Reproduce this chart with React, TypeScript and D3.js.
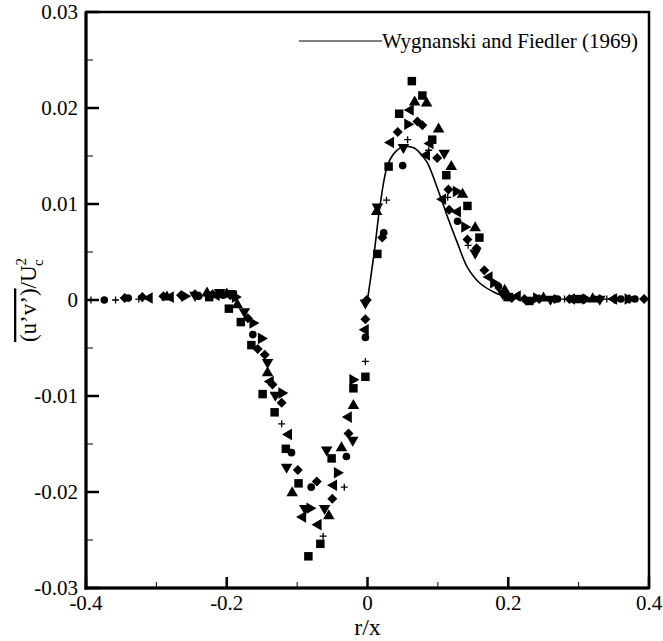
import React from 'react';
import * as d3 from 'd3';

type Pt = [number, number];

const xTicks = [-0.4, -0.2, 0, 0.2, 0.4];
const xMinor = [-0.3, -0.1, 0.1, 0.3];
const yTicks = [-0.03, -0.02, -0.01, 0, 0.01, 0.02, 0.03];
const yMinor = [-0.025, -0.015, -0.005, 0.005, 0.015, 0.025];

// Wygnanski and Fiedler (1969)
const curveData: Pt[] = [
  [0, 0], [0.01, 0.0052], [0.017, 0.0094], [0.028, 0.0139], [0.038, 0.0153], [0.048, 0.0159],
  [0.057, 0.016], [0.067, 0.0158], [0.077, 0.0151], [0.085, 0.0143], [0.102, 0.0111],
  [0.114, 0.0086], [0.128, 0.0059], [0.142, 0.0034], [0.159, 0.0018], [0.18, 0.0008], [0.19, 0.0005],
];

const plusData: Pt[] = [
  [-0.393, 0], [-0.358, 0], [-0.325, 0.0001], [-0.122, -0.0129], [-0.063, -0.0246], [-0.033, -0.0195],
  [-0.003, -0.0064], [0.027, 0.0104], [0.057, 0.0167], [0.087, 0.0156], [0.114, 0.0107], [0.143, 0.0057],
  [0.206, 0.0004], [0.28, 0.0001], [0.34, 0.0001],
];

const circleData: Pt[] = [
  [-0.374, 0], [-0.34, 0.0002], [-0.24, 0.0004], [-0.205, 0.0005], [-0.163, -0.0036], [-0.108, -0.0159],
  [-0.08, -0.0195], [-0.03, -0.0163], [-0.003, -0.0039], [0.023, 0.007], [0.05, 0.014], [0.128, 0.0082],
  [0.186, 0.0014], [0.27, 0.0001], [0.36, 0.0001], [0.38, 0.0001],
];

const squareData: Pt[] = [
  [-0.225, 0.0003], [-0.197, -0.0009], [-0.18, -0.0023], [-0.165, -0.0047], [-0.149, -0.0098], [-0.132, -0.0117],
  [-0.116, -0.0155], [-0.098, -0.0191], [-0.084, -0.0267], [-0.067, -0.0254], [-0.051, -0.0165], [-0.02, -0.0092],
  [-0.003, -0.008], [0.014, 0.0048], [0.03, 0.0139], [0.045, 0.0194], [0.063, 0.0228], [0.078, 0.0213],
  [0.092, 0.0167], [0.112, 0.013], [0.142, 0.0098], [0.159, 0.0065], [0.199, 0.0003], [0.23, -0.0001], [0.3, 0.0001],
];

const triUpData: Pt[] = [
  [-0.285, 0.0003], [-0.228, 0.0007], [-0.2, 0.0006], [-0.185, -0.0005], [-0.142, -0.0076], [-0.107, -0.0201],
  [-0.055, -0.0225], [-0.037, -0.0154], [-0.02, -0.011], [0.013, 0.0092], [0.067, 0.0206], [0.084, 0.0205],
  [0.101, 0.0178], [0.119, 0.0139], [0.135, 0.011], [0.153, 0.0075], [0.195, 0.001], [0.25, 0.0002], [0.32, 0.0001],
];

const triDownData: Pt[] = [
  [-0.245, 0.0005], [-0.21, 0.0008], [-0.195, 0.0007], [-0.175, -0.0012], [-0.142, -0.0065], [-0.131, -0.0099],
  [-0.115, -0.0174], [-0.089, -0.0217], [-0.061, -0.0217], [-0.058, -0.0156], [-0.021, -0.0146], [-0.003, -0.0003],
  [0.014, 0.0097], [0.051, 0.0159], [0.109, 0.0153], [0.153, 0.0049], [0.192, 0.0007], [0.26, 0.0001], [0.33, 0.0001],
];

const triLeftData: Pt[] = [
  [-0.31, 0.0002], [-0.28, 0.0003], [-0.215, 0.0005], [-0.19, 0.0004], [-0.138, -0.0085], [-0.112, -0.014],
  [-0.092, -0.0226], [-0.07, -0.0234], [-0.048, -0.0193], [-0.027, -0.0122], [-0.003, -0.0031], [0.033, 0.0164],
  [0.061, 0.0198], [0.084, 0.0151], [0.089, 0.0163], [0.107, 0.0105], [0.128, 0.0092], [0.173, 0.0024],
  [0.213, 0.0004], [0.29, 0.0001], [0.35, 0.0001],
];

const triRightData: Pt[] = [
  [-0.26, 0.0004], [-0.188, 0.0003], [-0.163, -0.0024], [-0.151, -0.004], [-0.122, -0.0097], [-0.082, -0.0217],
  [-0.043, -0.018], [-0.021, -0.0083], [0.057, 0.0183], [0.126, 0.0113], [0.138, 0.0076], [0.179, 0.0018],
  [0.24, 0.0002], [0.31, 0.0001], [0.37, 0.0001],
];

const diamondData: Pt[] = [
  [-0.345, 0.0002], [-0.32, 0.0003], [-0.29, 0.0004], [-0.265, 0.0005], [-0.245, 0.0006], [-0.22, 0.0006],
  [-0.195, 0.0005], [-0.17, -0.0019], [-0.156, -0.0051], [-0.146, -0.0057], [-0.135, -0.0088], [-0.122, -0.0107],
  [-0.099, -0.0177], [-0.072, -0.0189], [-0.05, -0.0207], [-0.027, -0.0139], [-0.003, -0.002], [-0.001, 0],
  [0.021, 0.0065], [0.043, 0.0175], [0.071, 0.0186], [0.078, 0.0182], [0.099, 0.0148], [0.115, 0.0115],
  [0.116, 0.0094], [0.142, 0.0063], [0.155, 0.0054], [0.166, 0.0031], [0.205, 0.0002], [0.223, 0.0001],
  [0.244, 0.0001], [0.266, 0.0001], [0.287, 0.0001], [0.308, 0.0001], [0.33, 0.0001], [0.351, 0.0001],
  [0.372, 0.0001], [0.393, 0.0001],
];

const W = 663;
const H = 641;
const left = 86, right = 649, top = 12, bottom = 588;
const font = "'Liberation Serif', 'DejaVu Serif', serif";

const x = d3.scaleLinear().domain([-0.4, 0.4]).range([left, right]);
const y = d3.scaleLinear().domain([-0.03, 0.03]).range([bottom, top]);

const sym = (type: d3.SymbolType, size: number) => d3.symbol().type(type).size(size)() as string;

const markerSets: { data: Pt[]; d: string; rot: number }[] = [
  { data: squareData, d: sym(d3.symbolSquare, 72), rot: 0 },
  { data: circleData, d: sym(d3.symbolCircle, 46), rot: 0 },
  { data: triUpData, d: sym(d3.symbolTriangle, 58), rot: 0 },
  { data: triDownData, d: sym(d3.symbolTriangle, 58), rot: 180 },
  { data: triLeftData, d: sym(d3.symbolTriangle, 58), rot: -90 },
  { data: triRightData, d: sym(d3.symbolTriangle, 58), rot: 90 },
  { data: diamondData, d: sym(d3.symbolDiamond2, 64), rot: 0 },
];

const fmt = (v: number) => (Math.abs(v) < 1e-9 ? '0' : d3.format('.2~f')(v).replace('−', '-'));
const fmtX = (v: number) => (Math.abs(v) < 1e-9 ? '0' : d3.format('.1f')(v).replace('−', '-'));

export default function App() {
  const line = d3.line<Pt>().x(d => x(d[0])).y(d => y(d[1])).curve(d3.curveCatmullRom);
  return (
    <svg width={W} height={H} style={{ position: 'absolute', left: 0, top: 0, background: '#fff', fontFamily: font }}>
      <rect x={0} y={0} width={W} height={H} fill="#fff" />
      {/* frame */}
      <rect x={left} y={top} width={right - left} height={bottom - top} fill="none" stroke="#000" strokeWidth={2.5} />
      <line x1={left} x2={left} y1={top} y2={bottom + 1.5} stroke="#000" strokeWidth={3} />
      <line x1={left - 1.5} x2={right} y1={bottom} y2={bottom} stroke="#000" strokeWidth={3} />
      {/* y ticks */}
      {yTicks.map(t => (
        <g key={'y' + t}>
          <line x1={left} x2={left + 13} y1={y(t)} y2={y(t)} stroke="#000" strokeWidth={2.5} />
          <text x={left - 8} y={y(t) + 7} textAnchor="end" fontSize={21}>{fmt(t)}</text>
        </g>
      ))}
      {yMinor.map(t => (
        <line key={'ym' + t} x1={left} x2={left + 7} y1={y(t)} y2={y(t)} stroke="#000" strokeWidth={1} />
      ))}
      {/* x ticks */}
      {xTicks.map(t => (
        <g key={'x' + t}>
          <line x1={x(t)} x2={x(t)} y1={bottom} y2={bottom - 11} stroke="#000" strokeWidth={2.5} />
          <text x={x(t)} y={bottom + 22} textAnchor="middle" fontSize={21}>{fmtX(t)}</text>
        </g>
      ))}
      {xMinor.map(t => (
        <line key={'xm' + t} x1={x(t)} x2={x(t)} y1={bottom} y2={bottom - 6} stroke="#000" strokeWidth={1} />
      ))}
      {/* axis titles */}
      <text x={x(0)} y={H - 6} textAnchor="middle" fontSize={24}>r/x</text>
      <text transform={`translate(36,${(top + bottom) / 2}) rotate(-90)`} textAnchor="middle" fontSize={23}>
        <tspan style={{ textDecoration: 'overline' }}>(u’v’)</tspan>
        <tspan>/U</tspan>
        <tspan fontSize={15} dy={-10}>2</tspan>
        <tspan fontSize={15} dx={-8} dy={17}>c</tspan>
      </text>
      {/* reference curve */}
      <path d={line(curveData) as string} fill="none" stroke="#000" strokeWidth={1.6} />
      {/* legend */}
      <line x1={299} x2={382} y1={41} y2={41} stroke="#000" strokeWidth={1} />
      <text x={382} y={48} fontSize={21}>Wygnanski and Fiedler (1969)</text>
      {/* markers */}
      {markerSets.map((s, i) => (
        <g key={'s' + i}>
          {s.data.map((p, j) => (
            <path key={j} d={s.d} fill="#000" transform={`translate(${x(p[0])},${y(p[1])}) rotate(${s.rot})`} />
          ))}
        </g>
      ))}
      <g>
        {plusData.map((p, j) => (
          <path key={j} d="M-3.5,0H3.5M0,-3.5V3.5" stroke="#000" strokeWidth={1.3}
            transform={`translate(${x(p[0])},${y(p[1])})`} />
        ))}
      </g>
    </svg>
  );
}
